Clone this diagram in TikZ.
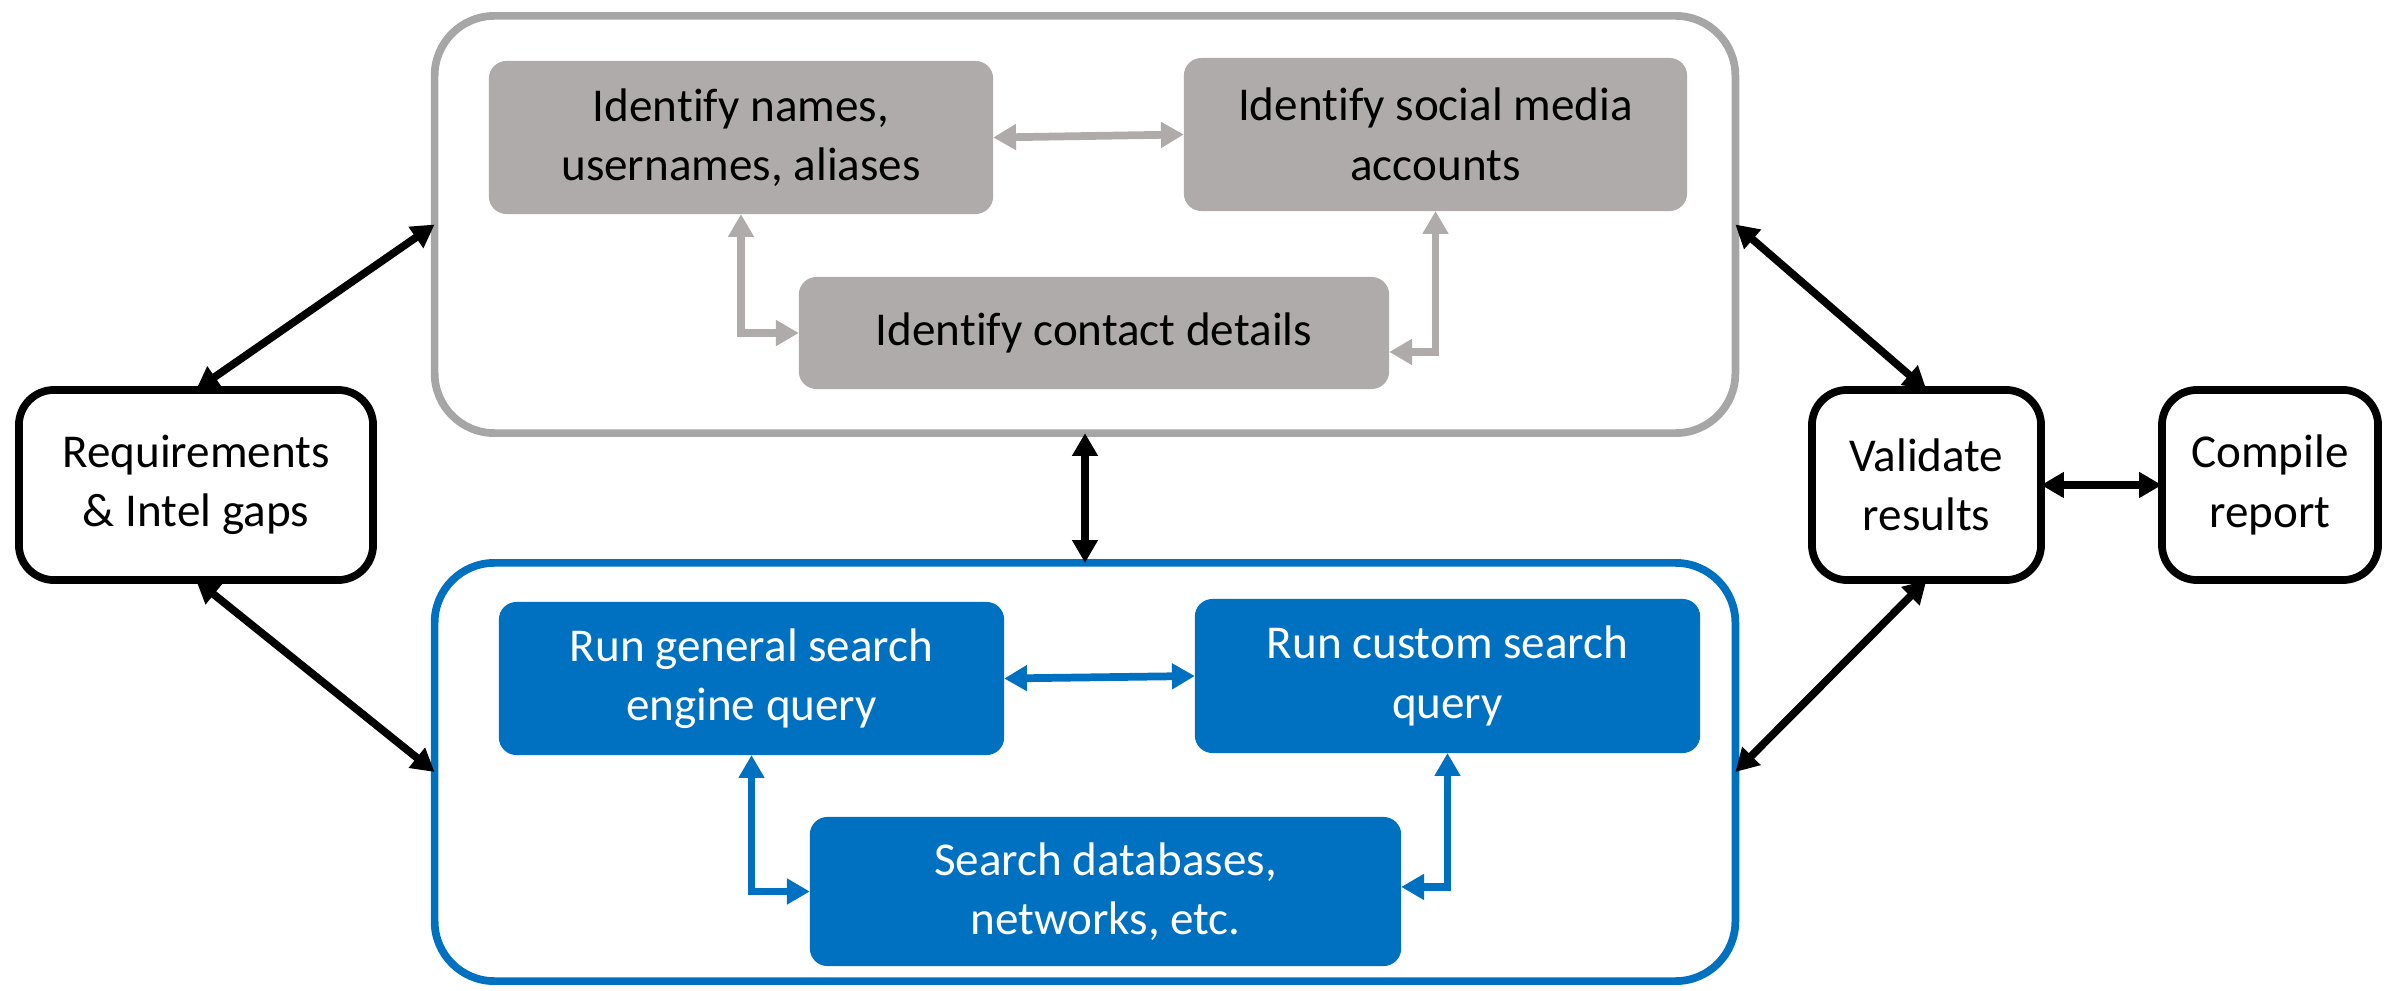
\documentclass[tikz,border=0pt]{standalone}
\usepackage{fontspec}
\setmainfont{Carlito}[RawFeature=-liga]
\usetikzlibrary{arrows.meta}
\definecolor{grpgray}{HTML}{A6A6A6}
\definecolor{cellgray}{HTML}{AFABAB}
\definecolor{msblue}{HTML}{0070C0}
\tikzset{
  lbl/.style={font=\fontsize{13.4pt}{16.9pt}\selectfont, align=center},
  group/.style={draw, line width=2.2pt, rounded corners=17pt, inner sep=0pt, outer sep=0pt},
  stage/.style={lbl, draw=black, line width=2.2pt, rounded corners=10pt, fill=white, inner sep=0pt, outer sep=0pt},
  greycell/.style={lbl, fill=cellgray, rounded corners=5pt, inner sep=0pt, outer sep=0pt},
  bluecell/.style={lbl, fill=msblue, text=white, rounded corners=5pt, inner sep=0pt, outer sep=0pt},
  link/.style={line width=2.2pt, {Triangle[length=6.5pt,width=7pt]}-{Triangle[length=6.5pt,width=7pt]}},
}
\begin{document}
\begin{tikzpicture}[x=0.01cm, y=-0.01cm]
\useasboundingbox (0,0) rectangle (2384,991);

% outer process stages
\node[stage, minimum width=3.54cm, minimum height=1.90cm] (req) at (196,485) {Requirements\\\& Intel gaps};
\node[stage, minimum width=2.29cm, minimum height=1.90cm] (val) at (1926.5,485) {Validate\\results};
\node[stage, minimum width=2.16cm, minimum height=1.90cm] (rep) at (2270,485) {Compile\\report};

% grouping frames
\node[group, draw=grpgray, minimum width=13cm, minimum height=4.17cm] (osint) at (1085,224.5) {};
\node[group, draw=msblue, minimum width=13cm, minimum height=4.18cm] (search) at (1085,772) {};

% identification tasks
\node[greycell, minimum width=5.04cm, minimum height=1.53cm] (names) at (741,137.5) {Identify names,\\usernames, aliases};
\node[greycell, minimum width=5.03cm, minimum height=1.53cm] (social) at (1435.5,134.5) {Identify social media\\accounts};
\node[greycell, minimum width=5.90cm, minimum height=1.12cm] (contact) at (1094,333) {Identify contact details};

% search tasks
\node[bluecell, minimum width=5.05cm, minimum height=1.53cm] (general) at (751.5,678.5) {Run general search\\engine query};
\node[bluecell, minimum width=5.05cm, minimum height=1.54cm] (custom) at (1447.5,676) {Run custom search\\query};
\node[bluecell, minimum width=5.91cm, minimum height=1.49cm] (db) at (1105.5,891.5) {Search databases,\\networks, etc.};

% links inside the identification frame
\draw[link, color=cellgray] (names.east) -- (social.west);
\draw[link, color=cellgray] (names.south) |- (contact.west);
\draw[link, color=cellgray] (social.south) |- ([yshift=-5.4pt]contact.east);

% links inside the search frame
\draw[link, color=msblue] (general.east) -- (custom.west);
\draw[link, color=msblue] (general.south) |- (db.west);
\draw[link, color=msblue] (custom.south) |- ([yshift=1.3pt]db.east);

% links between stages
\draw[link] (req.north) -- (osint.west);
\draw[link] (req.south) -- (search.west);
\draw[link] (val.north) -- (osint.east);
\draw[link] (val.south) -- (search.east);
\draw[link] (val.east) -- (rep.west);
\draw[link] (osint.south) -- (search.north);
\end{tikzpicture}
\end{document}
